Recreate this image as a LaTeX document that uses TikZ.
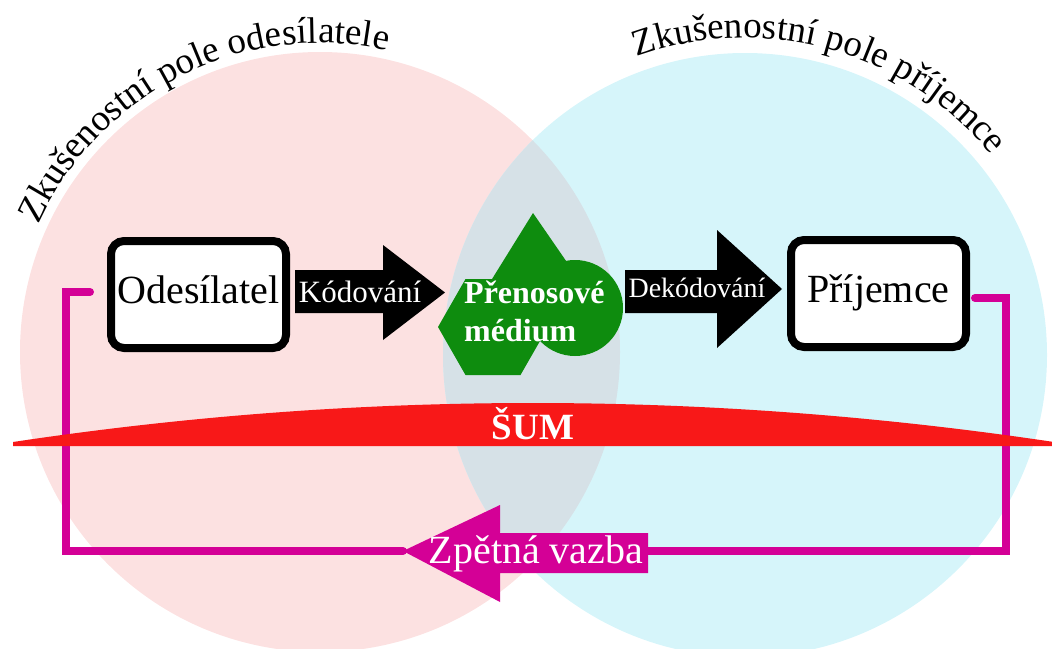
\documentclass[tikz,border=0pt]{standalone}
\usepackage{fontspec}
\setmainfont{Liberation Serif}
\usetikzlibrary{decorations.text}
\definecolor{pinkfield}{RGB}{252,225,225}
\definecolor{cyanfield}{RGB}{214,245,250}
\definecolor{overlapfield}{RGB}{214,225,231}
\definecolor{medgreen}{RGB}{14,140,14}
\definecolor{noisered}{RGB}{248,24,24}
\definecolor{fbmagenta}{RGB}{212,0,150}
\begin{document}
\begin{tikzpicture}[x=1pt,y=-1pt,
  box/.style={draw=black, line width=8pt, fill=white, rounded corners=13pt,
    minimum width=175pt, minimum height=107pt, inner sep=0pt,
    text height=27pt, text depth=10pt, font=\fontsize{40}{40}\selectfont},
  arrowlabel/.style={text=white, inner sep=0pt, anchor=base},
  blockarrow/.style={fill=black},
  fbline/.style={draw=fbmagenta, line width=8pt, line cap=round, line join=miter},
  titletext/.style={decorate, decoration={text along path, text align=center,
    text={|\fontsize{37}{37}\selectfont|#1}}}
]
\useasboundingbox (0,0) rectangle (1052,648);
\clip (0,0) rectangle (1052,648);

% fields of experience
\fill[pinkfield] (320,352) circle[radius=300];
\fill[cyanfield] (745,355) circle[radius=302];
\begin{scope}
  \clip (320,352) circle[radius=300];
  \fill[overlapfield] (745,355) circle[radius=302];
\end{scope}

% curved titles
\path[titletext={Zkušenostní pole odesílatele}]
  ([shift={(-176.5:309)}]320,352) arc[start angle=-176.5, end angle=-56.5, radius=309];
\path[titletext={Zkušenostní pole příjemce}]
  ([shift={(-135:317)}]745,355) arc[start angle=-135, end angle=-14, radius=317];

% feedback lines
\coordinate (fbL) at (90,292);
\coordinate (fbR) at (975,298);
\coordinate (fbtip) at (403,551);
\coordinate (fbtail) at (648,551);
\draw[fbline] (fbL) -- ++(-24,0) |- (fbtip);
\draw[fbline] (fbR) -- ++(31,0) |- (fbtail);

% feedback arrow
\fill[fbmagenta] (fbtip) -- (500,505) -- (500,533) -- (648,533) -- (648,573)
  -- (500,573) -- (500,602) -- cycle;
\node[arrowlabel, font=\fontsize{40}{40}\selectfont] (zv) at (536,563) {Zpětná vazba};

% encoding / decoding arrows
\fill[blockarrow] (295,270) -- (383,270) -- (383,245) -- (445,292.5) -- (383,340)
  -- (383,313) -- (295,313) -- cycle;
\fill[blockarrow] (625,270) -- (717,270) -- (717,230) -- (782,289) -- (717,348)
  -- (717,313) -- (625,313) -- cycle;

% medium
\fill[medgreen] (438,327) -- (465.5,279) -- (520.5,279) -- (548,327) -- (520.5,375)
  -- (465.5,375) -- cycle;
\fill[medgreen] (533,213) -- (479,300) -- (593,300) -- cycle;
\fill[medgreen] (575,308) circle[radius=48];

\node[arrowlabel, font=\fontsize{31}{31}\selectfont] (kod) at (360,302) {Kódování};
\node[arrowlabel, font=\fontsize{28}{28}\selectfont] (dekod) at (697,297) {Dekódování};
\node[text=white, font=\bfseries\fontsize{32}{38}\selectfont, align=left,
  anchor=west, inner sep=0pt] (medium) at (464,311) {Přenosové\\médium};

% sender / receiver
\node[box] (send) at (198.5,294.5) {Odesílatel};
\node[box] (recv) at (878.5,293.5) {Příjemce};

% noise
\fill[noisered] (13,442) .. controls (359,390) and (706,390) .. (1054,442)
  -- (1054,446) -- (13,446) -- cycle;
\node[arrowlabel, font=\bfseries\fontsize{37}{37}\selectfont] (sum) at (533,439) {ŠUM};
\end{tikzpicture}
\end{document}
